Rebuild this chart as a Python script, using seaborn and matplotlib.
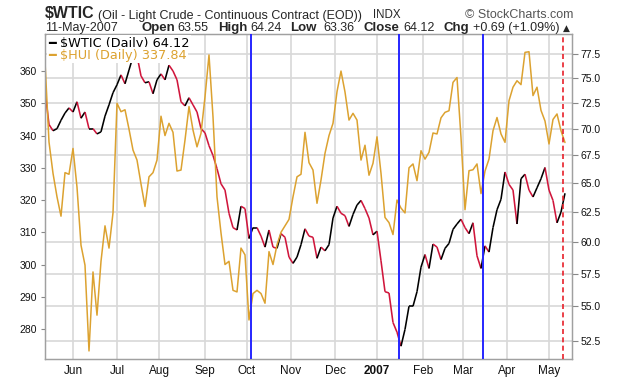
import numpy as np
import pandas as pd
import matplotlib
matplotlib.use("Agg")
import matplotlib.pyplot as plt
from matplotlib.collections import LineCollection
from matplotlib.ticker import NullLocator
import seaborn as sns

# trading days on the chart, values read every second day
days = pd.bdate_range(end="2007-05-11", periods=261)
step = 2

wtic = [73.7, 70.4, 69.8, 70.0, 70.8, 71.5, 72.0, 71.6, 72.6, 71.0,
        71.6, 70.0, 70.0, 69.5, 69.7, 71.2, 72.3, 73.5, 74.3, 75.3,
        74.4, 75.8, 77.2, 77.3, 75.2, 74.5, 74.6, 73.4, 74.8, 75.4,
        74.8, 76.3, 75.7, 74.8, 72.6, 72.2, 73.0, 72.3, 71.6, 70.0,
        69.6, 68.4, 67.5, 66.3, 64.95, 64.4, 62.4, 61.2, 61.0, 63.0,
        62.8, 60.3, 61.2, 61.2, 60.5, 59.6, 61.0, 59.6, 59.5, 60.7,
        60.4, 58.8, 58.3, 58.8, 59.8, 61.1, 60.5, 60.4, 58.7, 59.6,
        59.3, 59.8, 62.0, 63.0, 62.4, 62.2, 61.3, 62.3, 63.1, 63.5,
        62.8, 62.0, 60.6, 60.9, 58.5, 56.1, 56.0, 53.8, 53.1, 52.1,
        53.3, 55.0, 55.0, 56.1, 58.0, 59.0, 57.9, 59.85, 59.6, 58.6,
        59.5, 59.9, 61.05, 61.5, 61.9, 61.2, 60.7, 61.6, 58.9, 57.9,
        59.7, 59.2, 61.2, 62.7, 63.6, 66.0, 64.9, 64.4, 61.5, 65.4,
        65.8, 64.4, 63.8, 64.6, 65.4, 66.4, 64.4, 63.5, 61.6, 62.5,
        64.12]

hui = [362.9, 338, 328.3, 321, 315, 328.5, 328, 336, 324, 306,
       299.8, 273.2, 297.7, 284.3, 301, 312, 305.1, 316, 350, 347.4,
       348, 342, 335.5, 332.4, 325, 318, 327.2, 328.5, 332.4, 346,
       340, 343.8, 341, 329, 329.3, 338.6, 349, 341.7, 336.5, 340.7,
       352, 365, 345.8, 321, 309.8, 300, 301, 292, 291.5, 305.1,
       303, 282.8, 291, 292, 291, 288, 304, 300, 306.1, 310,
       312, 314, 321, 327.2, 328, 341, 331.6, 329.3, 319, 326.2,
       334.5, 340, 343.8, 353.6, 360, 353.5, 344.8, 346.9, 344.8, 332.4,
       337, 327.7, 331.4, 339.6, 328.3, 314.6, 313, 309.3, 320, 317.5,
       316, 330, 331.2, 326, 335.3, 332.7, 334.8, 340.8, 340.5, 345.5,
       347.2, 347.7, 356.5, 358, 339.4, 317, 329.1, 329.4, 331.2, 322,
       329, 332.7, 341.5, 345.6, 340.5, 337.9, 350.8, 355, 357, 355.8,
       365.8, 366, 352.4, 355, 347.8, 344.5, 337.4, 345, 346.7, 341.5,
       337.84]

quote_date = "11-May-2007"
open_px, high_px, low_px, close_px = 63.55, 64.24, 63.36, 64.12
chg, chg_pct = 0.69, 1.09

wtic_ticks = [52.5, 55.0, 57.5, 60.0, 62.5, 65.0, 67.5, 70.0, 72.5, 75.0, 77.5]
hui_ticks = [280, 290, 300, 310, 320, 330, 340, 350, 360]
event_dates = ["2006-10-04", "2007-01-16", "2007-03-15"]
last_marker = "2007-05-10"

RED = "#d0163c"
ORANGE = "#dca230"
BLUE = "#2626ff"
GRID = "#d8d8d8"
SPINE = "#a0a0a0"

sns.set_theme(style="white")
plt.rcParams["font.family"] = ["Liberation Sans", "DejaVu Sans"]

W, H = 620, 379
fig = plt.figure(figsize=(W / 100, H / 100), dpi=100)
ax = fig.add_axes([45 / W, 1 - 359 / H, 527 / W, 325 / H])
ax2 = ax.twinx()

pos = np.arange(0, len(days), step)

# WTIC on the main (right, log) axis, black up days / red down days
pts = np.column_stack([pos, wtic])
segs = np.stack([pts[:-1], pts[1:]], axis=1)
cols = np.where(np.diff(wtic) < 0, RED, "black")
ax.add_collection(LineCollection(segs, colors=cols, linewidths=1.15, zorder=3))
ax.set_yscale("log")
ax.set_ylim(51.2, 79.6)
ax.yaxis.tick_right()
ax.set_yticks(wtic_ticks)
ax.set_yticklabels([f"{t:.1f}" for t in wtic_ticks])
ax.yaxis.set_minor_locator(NullLocator())

# HUI overlay on the left axis
sns.lineplot(x=pos, y=hui, ax=ax2, color=ORANGE, linewidth=1.1, zorder=2)
ax2.set_ylim(270.7, 371.5)
ax2.yaxis.tick_left()
ax2.set_yticks(hui_ticks)
ax2.set_yticklabels([str(t) for t in hui_ticks])

# month ticks on trading-day positions
idx = pd.Series(np.arange(len(days)), index=days)
firsts = idx.groupby([days.year, days.month]).min().iloc[1:]
labels = ["2007" if m == 1 else pd.Timestamp(y, m, 1).strftime("%b") for y, m in firsts.index]
ax.set_xlim(0, 263.5)
ax.set_xticks(firsts.values)
ax.set_xticklabels(labels)
for lab in ax.get_xticklabels():
    if lab.get_text() == "2007":
        lab.set_fontweight("bold")
        lab.set_fontsize(10)

ax.grid(True, color=GRID, linewidth=1.2)
ax.set_axisbelow(True)
ax2.grid(False)
ax.tick_params(axis="x", length=0, pad=4, labelsize=8.5, colors="#111111")
ax.tick_params(axis="y", which="major", right=True, left=False, length=4, width=0.8,
               color="#888888", pad=2, labelsize=7.5, labelcolor="#111111")
ax2.tick_params(axis="y", left=True, right=False, length=3, width=0.8,
                color="#888888", pad=3, labelsize=7.5, labelcolor="#111111")
for a in (ax, ax2):
    a.set_xlabel("")
    a.set_ylabel("")
    for s in a.spines.values():
        s.set_color(SPINE)
        s.set_linewidth(0.9)

for d in event_dates:
    ax2.axvline(days.get_loc(pd.Timestamp(d)), color=BLUE, linewidth=1.4, zorder=5)
ax2.axvline(days.get_loc(pd.Timestamp(last_marker)), color="#e8202a", linewidth=1.2,
            linestyle=(0, (3, 2)), zorder=5)

# legend lines with their own white backgrounds
box = dict(facecolor="white", edgecolor="none", pad=0.8)
ax2.text(0.006, 0.972, f"━ $WTIC (Daily) {wtic[-1]:.2f}", transform=ax2.transAxes,
         ha="left", va="center", fontsize=9.3, family="DejaVu Sans", color="black",
         bbox=box, zorder=6)
ax2.text(0.006, 0.935, f"━ $HUI (Daily) {hui[-1]:.2f}", transform=ax2.transAxes,
         ha="left", va="center", fontsize=9.3, family="DejaVu Sans", color=ORANGE,
         bbox=box, zorder=6)

# header
def htext(x, y, s, **kw):
    fig.text(x / W, 1 - y / H, s, ha="left", va="baseline", **kw)

htext(45, 18.5, "$WTIC", fontsize=11.5, fontweight="bold")
htext(98, 18.5, "(Oil - Light Crude - Continuous Contract (EOD))", fontsize=9.0)
htext(373, 18, "INDX", fontsize=8.3)
htext(465, 17.5, "© StockCharts.com", fontsize=9, color="#555555")

row = [(45, quote_date, "normal"),
       (142, "Open", "bold"), (177, f"{open_px:.2f}", "normal"),
       (218, "High", "bold"), (250, f"{high_px:.2f}", "normal"),
       (290, "Low", "bold"), (323, f"{low_px:.2f}", "normal"),
       (363, "Close", "bold"), (403, f"{close_px:.2f}", "normal"),
       (443, "Chg", "bold"), (473, f"{chg:+.2f} ({chg_pct:+.2f}%)", "normal")]
for x, s, w in row:
    htext(x, 31, s, fontsize=9.5 if w == "bold" else 9, fontweight=w)
htext(563, 30.5, "▲", fontsize=6.5, family="DejaVu Sans")

fig.savefig("out.png", dpi=100)
